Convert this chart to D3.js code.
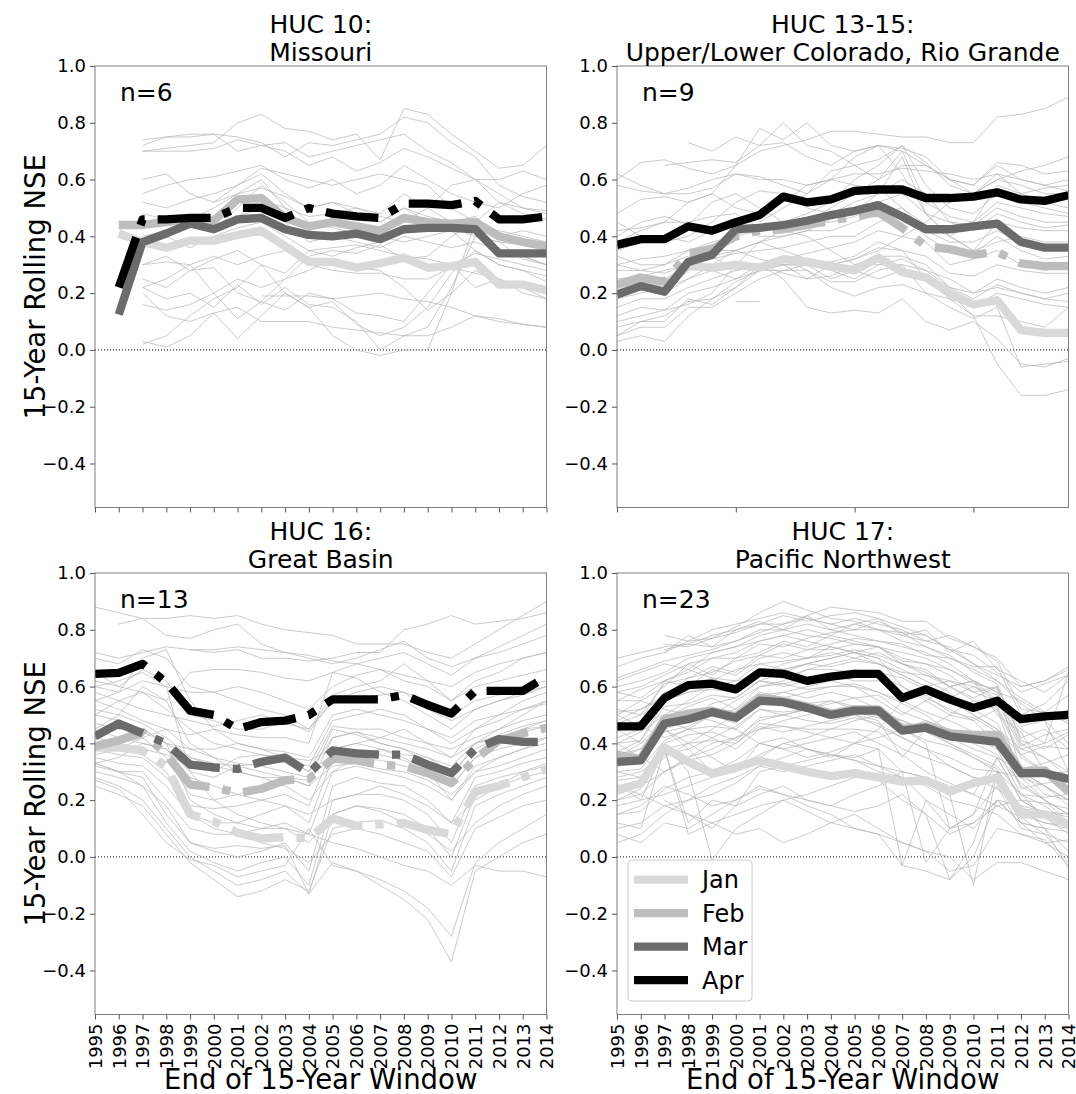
<!DOCTYPE html>
<html>
<head>
<meta charset="utf-8">
<script src="https://cdn.jsdelivr.net/npm/d3@7"></script>
<style>
  body { margin: 0; background: #fff; }
  svg { font-family: 'DejaVu Sans', sans-serif; }
</style>
</head>
<body>
<script>
'use strict'

// ---- data ----
const years = [1995, 1996, 1997, 1998, 1999, 2000, 2001, 2002, 2003, 2004,
  2005, 2006, 2007, 2008, 2009, 2010, 2011, 2012, 2013, 2014]
const months = ['Jan', 'Feb', 'Mar', 'Apr']
const yTicks = [1.0, 0.8, 0.6, 0.4, 0.2, 0.0, -0.2, -0.4]
const fiveYearTicks = [1995, 2000, 2005, 2010]

const titles = [
  ['HUC 10:', 'Missouri'],
  ['HUC 13-15:', 'Upper/Lower Colorado, Rio Grande'],
  ['HUC 16:', 'Great Basin'],
  ['HUC 17:', 'Pacific Northwest']
]
const counts = ['n=6', 'n=9', 'n=13', 'n=23']

// HUC 10
const p1Jan = [null, 0.41, 0.38, 0.36, 0.385, 0.385, 0.405, 0.42, 0.365, 0.31, 0.31, 0.29, 0.305, 0.325, 0.29, 0.295, 0.31, 0.23, 0.23, 0.21]
const p1Feb = [null, 0.44, 0.44, 0.45, 0.46, 0.455, 0.53, 0.535, 0.465, 0.435, 0.45, 0.435, 0.42, 0.465, 0.45, 0.445, 0.45, 0.40, 0.38, 0.365]
const p1Mar = [null, 0.125, 0.38, 0.41, 0.445, 0.425, 0.46, 0.465, 0.425, 0.405, 0.40, 0.41, 0.39, 0.425, 0.43, 0.43, 0.425, 0.34, 0.34, 0.34]
const p1Apr = [null, 0.22, 0.46, 0.46, 0.465, 0.465, 0.50, 0.50, 0.465, 0.50, 0.48, 0.47, 0.465, 0.515, 0.515, 0.51, 0.525, 0.46, 0.46, 0.47]

// HUC 13-15
const p2Jan = [0.22, 0.24, 0.23, 0.295, 0.29, 0.30, 0.29, 0.32, 0.31, 0.295, 0.28, 0.325, 0.275, 0.255, 0.20, 0.16, 0.175, 0.07, 0.06, 0.06]
const p2Feb = [0.23, 0.255, 0.24, 0.34, 0.355, 0.40, 0.42, 0.425, 0.44, 0.455, 0.47, 0.485, 0.43, 0.365, 0.355, 0.335, 0.345, 0.305, 0.295, 0.295]
const p2Mar = [0.195, 0.225, 0.205, 0.31, 0.335, 0.425, 0.43, 0.44, 0.455, 0.475, 0.49, 0.51, 0.47, 0.425, 0.425, 0.435, 0.445, 0.38, 0.36, 0.36]
const p2Apr = [0.37, 0.39, 0.39, 0.435, 0.42, 0.45, 0.475, 0.54, 0.52, 0.53, 0.56, 0.565, 0.565, 0.535, 0.535, 0.54, 0.555, 0.53, 0.525, 0.545]

// HUC 16
const p3Jan = [0.385, 0.385, 0.375, 0.32, 0.15, 0.125, 0.085, 0.065, 0.07, 0.065, 0.135, 0.11, 0.115, 0.12, 0.095, 0.08, 0.23, 0.25, 0.28, 0.31]
const p3Feb = [0.39, 0.41, 0.44, 0.36, 0.255, 0.245, 0.225, 0.24, 0.27, 0.275, 0.345, 0.34, 0.325, 0.32, 0.295, 0.26, 0.345, 0.41, 0.435, 0.455]
const p3Mar = [0.425, 0.47, 0.435, 0.40, 0.325, 0.315, 0.31, 0.335, 0.35, 0.295, 0.375, 0.365, 0.36, 0.36, 0.325, 0.295, 0.38, 0.415, 0.405, 0.405]
const p3Apr = [0.645, 0.648, 0.68, 0.615, 0.515, 0.50, 0.45, 0.475, 0.48, 0.50, 0.555, 0.555, 0.555, 0.57, 0.535, 0.505, 0.585, 0.585, 0.585, 0.635]

// HUC 17
const p4Jan = [0.235, 0.26, 0.385, 0.335, 0.295, 0.315, 0.34, 0.32, 0.30, 0.285, 0.295, 0.28, 0.265, 0.27, 0.23, 0.26, 0.28, 0.15, 0.15, 0.115]
const p4Feb = [0.36, 0.345, 0.485, 0.505, 0.515, 0.495, 0.56, 0.55, 0.53, 0.505, 0.52, 0.52, 0.45, 0.46, 0.435, 0.43, 0.43, 0.30, 0.305, 0.23]
const p4Mar = [0.335, 0.34, 0.47, 0.485, 0.51, 0.49, 0.55, 0.545, 0.525, 0.50, 0.515, 0.515, 0.445, 0.455, 0.425, 0.415, 0.405, 0.295, 0.295, 0.275]
const p4Apr = [0.46, 0.46, 0.56, 0.605, 0.61, 0.59, 0.65, 0.645, 0.62, 0.635, 0.645, 0.645, 0.56, 0.59, 0.555, 0.525, 0.55, 0.485, 0.495, 0.50]

// individual sites (NSE x 100, '_' = no value)
const p1Grey = [
  '_ _ 72 75 76 76 75 73 68 73 72 74 76 82 80 73 68 58 54 52',
  '_ _ 70 71 72 73 80 83 78 77 74 76 67 85 83 76 70 64 65 72',
  '_ _ 70 70 70 71 74 72 70 65 68 63 66 71 68 64 60 52 48 46',
  '_ _ 55 58 60 61 63 65 60 57 60 55 58 65 60 55 52 50 55 58',
  '_ _ 52 50 53 55 58 62 55 50 52 50 48 55 50 45 47 40 38 35',
  '_ _ 45 47 46 50 55 60 50 42 45 48 45 50 45 42 43 42 40 38',
  '_ _ 40 42 45 43 47 50 45 38 40 38 36 40 38 36 38 35 33 30',
  '_ _ 30 33 28 32 35 30 27 35 33 36 38 45 50 58 60 55 50 48',
  '_ _ 22 25 30 20 25 22 25 33 35 34 37 32 33 40 45 35 33 30',
  '_ _ 3 1 5 13 4 12 20 15 5 0 -2 0 0 20 45 52 50 49',
  '_ _ 2 5 12 18 22 30 20 15 17 9 5 8 15 27 35 30 28 26',
  '_ _ 22 18 20 15 23 16 22 16 15 10 0 5 8 22 40 38 32 30',
  '_ _ 16 14 16 20 11 17 14 20 18 13 12 10 20 30 22 25 20 18',
  '_ _ 25 22 28 29 20 17 25 28 32 29 28 22 14 20 28 24 22 20',
  '_ _ 20 12 10 13 15 10 10 10 8 7 6 5 5 8 12 11 9 8',
  '_ _ _ _ _ _ _ 19 19 19 18 19 20 18 17 15 12 10 9 8',
  '_ _ 48 46 44 42 50 58 52 45 43 41 40 38 40 42 35 30 28 24',
  '_ _ 38 40 36 40 43 45 40 35 36 37 35 33 32 30 34 32 30 28',
  '_ _ 60 62 55 52 58 64 62 60 58 60 62 60 58 50 45 40 42 40',
  '_ _ 74 75 75 76 70 72 73 68 70 72 74 76 70 66 60 60 63 60',
  '_ _ 30 31 30 33 30 33 35 30 28 27 27 25 25 29 27 25 22 18',
  '_ _ 45 44 46 42 47 53 50 47 48 50 47 45 45 43 40 38 37 36',
  '_ _ _ _ _ 52 55 57 54 50 52 48 45 50 47 45 42 40 38 36'
]

const p2Grey = [
  '48 53 54 52 55 65 70 72 74 77 77 76 75 75 73 73 82 83 85 89',
  '60 66 67 64 62 65 78 74 80 72 70 72 70 65 60 58 66 65 62 63',
  '_ _ _ 73 70 75 72 73 68 65 70 72 71 68 60 58 65 60 58 56',
  '58 56 55 57 60 62 61 58 55 63 65 67 72 66 58 55 62 60 58 60',
  '40 45 47 44 52 55 50 45 48 52 60 65 72 58 50 48 55 52 50 48',
  '42 43 45 45 47 48 43 42 45 50 55 60 70 52 47 45 52 50 48 47',
  '35 38 40 38 42 44 40 40 42 46 49 55 68 48 45 44 50 47 45 45',
  '30 32 33 35 38 40 42 43 45 45 47 52 55 48 40 35 45 43 42 42',
  '28 28 30 33 35 35 38 40 42 42 45 48 50 42 38 38 42 38 35 36',
  '25 26 28 30 32 34 35 36 38 40 40 45 48 40 35 34 40 35 32 33',
  '22 24 24 30 33 28 30 32 34 36 38 42 40 38 30 32 35 30 28 30',
  '18 20 22 25 28 25 28 30 30 31 33 38 35 33 27 26 30 28 27 27',
  '15 18 18 22 25 28 30 27 25 26 30 33 33 30 22 20 25 22 20 22',
  '10 12 14 20 22 25 30 32 28 24 24 28 30 28 22 18 23 20 18 20',
  '8 10 10 18 16 22 28 30 25 30 32 36 35 25 18 15 20 18 16 15',
  '5 8 8 15 15 20 25 28 30 28 25 30 30 20 18 12 12 10 8 15',
  '3 5 3 12 18 22 30 25 15 13 14 13 18 10 7 10 4 -5 -6 -3',
  '62 58 55 55 57 62 60 60 58 60 62 62 64 63 62 60 62 55 52 50',
  '20 22 20 25 30 35 32 30 30 25 28 25 28 25 20 12 -5 -16 -16 -14',
  '_ _ _ _ _ 17 17 _ _ _ _ _ _ _ _ _ _ _ _ _',
  '38 42 45 52 55 50 48 52 58 60 58 57 50 44 40 45 58 55 57 58',
  '45 40 38 40 45 52 56 55 50 48 52 55 60 55 45 42 48 45 43 44',
  '33 30 30 35 37 40 45 50 55 60 68 72 62 48 40 35 38 40 38 38',
  '12 15 14 16 20 30 38 42 40 35 30 30 32 28 25 20 22 20 18 17',
  '30 28 27 30 33 35 38 35 32 30 32 35 40 45 52 55 60 58 55 55',
  '5 10 12 17 18 24 28 28 28 22 19 22 23 20 15 11 15 -6 -5 -4',
  '_ _ 65 66 67 66 72 80 72 70 65 60 65 65 60 55 60 63 65 68'
]

const p3Grey = [
  '88 86 84 84 85 84 85 82 80 79 78 75 75 75 72 70 75 80 85 90',
  '_ 82 84 78 77 80 82 75 72 70 68 70 73 76 70 67 70 74 78 82',
  '72 70 72 74 73 72 73 70 70 69 70 72 72 80 82 85 82 83 84 86',
  '65 60 58 55 65 66 66 65 63 62 65 68 70 72 68 64 70 72 75 78',
  '60 58 62 60 58 58 60 58 55 52 60 64 66 62 60 55 62 65 70 72',
  '58 55 52 50 48 46 48 50 47 45 55 58 60 58 55 50 55 57 60 62',
  '55 52 48 45 43 45 43 42 42 40 65 63 58 55 50 45 52 55 58 60',
  '50 48 45 40 38 38 40 38 37 35 50 52 50 48 45 40 45 48 52 55',
  '45 42 40 38 30 28 32 33 35 30 46 45 45 42 40 38 42 45 48 50',
  '40 38 42 35 22 20 22 25 28 25 42 44 42 40 38 35 40 43 46 48',
  '38 36 35 28 18 17 18 20 22 18 38 40 38 36 35 30 38 42 45 46',
  '35 33 32 25 15 12 12 15 18 12 35 35 34 32 30 25 35 38 40 42',
  '33 30 30 20 10 8 8 10 12 8 30 32 30 28 25 20 30 35 38 40',
  '32 30 28 15 5 2 0 2 5 -5 25 28 26 25 20 12 28 30 33 35',
  '30 28 25 12 2 -2 -5 -2 0 -10 20 22 22 20 15 5 25 28 30 32',
  '28 25 20 10 0 -5 -10 -8 -5 -13 15 18 17 15 10 0 22 25 28 30',
  '25 22 18 8 -2 -8 -14 -12 -8 -12 10 12 13 10 5 -5 18 22 25 28',
  '27 24 15 5 -1 -3 -7 -5 -3 10 -3 -5 -8 -12 -18 -28 -2 5 10 15',
  '33 30 25 18 5 3 4 3 4 -13 -2 -5 -10 -15 -22 -37 -5 0 5 8',
  '60 62 65 60 30 20 15 12 10 8 5 3 0 -3 -5 -10 -3 -5 -5 -7',
  '55 58 70 73 55 45 40 38 35 30 42 44 40 38 33 28 40 45 50 55',
  '45 50 60 55 40 35 30 28 25 20 30 35 38 35 30 25 35 40 45 48',
  '_ _ _ _ 73 73 74 73 72 71 69 68 66 64 62 60 65 68 70 72',
  '33 35 40 38 28 25 22 20 18 15 20 22 25 22 18 12 20 25 30 33',
  '70 68 73 70 60 58 55 52 50 45 57 60 62 68 62 55 60 62 64 66',
  '62 60 66 62 50 48 45 45 48 44 55 56 57 58 52 48 52 55 57 60',
  '40 42 45 40 20 15 12 10 10 5 15 18 16 12 8 2 12 18 22 25',
  '36 38 36 30 15 10 8 5 3 -2 8 10 8 5 2 -7 10 14 18 20',
  '47 45 44 40 35 32 30 28 28 25 32 33 31 30 27 22 30 32 35 38',
  '52 50 47 42 35 33 32 30 28 27 45 43 40 38 35 32 40 42 44 46',
  '42 40 38 36 32 30 35 36 34 32 48 50 52 50 45 42 48 50 52 54',
  '50 55 58 52 45 40 38 36 35 34 38 40 42 45 40 35 45 50 55 58',
  '38 40 42 45 38 35 33 32 30 28 35 38 36 34 30 20 32 35 38 42'
]

const p4Grey = [
  '_ _ 73 75 74 76 80 80 78 77 75 74 72 70 66 62 58 55 50 48',
  '_ _ 75 74 77 79 82 85 83 85 86 84 81 78 73 68 62 56 51 47',
  '67 70 72 76 77 81 86 90 87 84 83 80 79 74 71 65 61 41 38 43',
  '63 66 69 71 73 76 79 82 85 88 87 86 83 83 77 74 69 52 51 57',
  '55 59 62 65 70 70 75 74 77 79 80 83 79 78 73 71 65 58 61 64',
  '51 52 57 63 65 69 71 75 73 75 77 76 75 71 70 67 67 50 54 62',
  '47 50 61 63 67 65 71 70 73 73 75 74 69 68 66 61 59 46 48 52',
  '44 48 62 66 63 62 68 69 70 71 73 71 68 64 62 60 57 39 43 45',
  '42 45 58 60 63 59 66 66 68 67 69 68 65 64 60 55 53 36 39 38',
  '40 41 55 58 59 58 64 63 66 66 65 65 63 59 57 52 47 31 33 36',
  '37 41 53 54 57 56 62 61 63 64 62 62 57 57 51 49 44 28 29 30',
  '36 38 49 53 56 52 60 61 59 60 61 58 55 51 48 44 42 24 26 27',
  '33 35 47 50 51 50 57 58 56 58 56 57 51 48 44 42 38 22 21 22',
  '32 33 45 48 50 47 55 54 54 55 53 53 47 45 42 38 35 20 19 17',
  '30 31 41 45 46 45 52 51 52 50 51 49 45 41 39 35 31 17 16 14',
  '27 28 40 43 44 41 49 50 48 47 49 47 42 38 35 31 30 15 12 11',
  '25 26 38 40 41 40 47 46 45 45 45 44 38 35 32 28 27 12 10 9',
  '26 20 38 12 20 18 30 32 34 36 35 38 -3 20 10 15 25 10 8 5',
  '20 24 40 30 -1 10 15 20 22 25 28 27 20 15 -8 5 30 15 12 10',
  '15 18 25 22 18 20 24 22 20 18 22 25 30 -2 10 12 18 20 15 12',
  '10 12 18 15 12 8 10 5 8 12 15 10 5 2 -5 -3 10 8 5 6',
  '8 5 12 10 15 20 25 22 18 15 10 8 -3 -5 -8 0 20 12 10 -4',
  '18 20 22 25 28 30 40 38 35 37 40 38 30 28 22 -10 30 28 20 15',
  '35 40 45 38 30 32 36 40 42 45 48 50 45 40 10 15 35 30 25 20',
  '45 48 50 55 60 58 62 65 68 70 72 70 60 55 50 48 52 35 30 28',
  '55 55 52 50 48 45 40 42 38 35 40 45 55 60 62 58 55 45 40 44',
  '30 28 35 40 45 50 55 58 60 62 60 55 50 55 60 62 58 40 35 30',
  '_ _ 20 15 10 18 22 25 20 18 16 18 22 15 8 12 20 18 16 15',
  '60 62 65 70 72 74 78 80 82 80 78 76 74 72 68 62 55 50 48 30',
  '70 72 74 75 78 80 82 82 84 82 80 80 78 76 74 68 64 60 62 67',
  '52 50 55 58 60 62 64 68 70 72 70 68 64 60 55 50 45 36 30 25',
  '40 35 30 35 40 42 48 50 52 55 52 50 48 45 40 35 30 22 18 12',
  '25 22 18 20 25 28 32 35 38 36 34 30 28 25 20 18 15 8 6 -3',
  '12 10 38 8 12 15 18 20 16 12 10 8 5 2 0 -8 -2 -2 -5 -8',
  '45 40 48 45 42 38 45 48 50 52 50 48 35 45 50 55 52 28 25 20',
  '58 60 64 68 70 72 76 78 76 74 72 70 66 62 58 50 45 38 40 65',
  '50 46 42 45 50 55 60 62 66 68 70 72 68 65 60 56 60 30 22 20',
  '22 25 30 35 38 42 45 46 44 42 40 42 45 48 45 42 40 25 20 12',
  '_ _ 78 76 80 82 84 86 84 82 84 82 80 76 78 74 70 60 62 66',
  '_ _ 72 78 74 80 83 80 85 80 82 84 78 80 72 76 66 62 58 64',
  '62 65 68 66 72 74 76 78 80 78 82 80 76 74 70 66 62 54 48 40',
  '50 55 60 68 64 70 72 76 74 78 76 74 70 68 64 58 60 42 45 38',
  '58 56 62 60 66 64 70 72 70 74 72 74 68 66 60 62 50 44 30 22',
  '48 52 56 60 62 66 68 66 68 70 72 68 64 60 56 60 55 38 35 28',
  '40 44 50 48 54 56 62 60 62 64 66 64 60 56 52 48 40 30 25 18',
  '35 38 44 46 50 52 58 56 58 60 60 58 54 50 44 40 36 26 20 15',
  '28 30 36 38 42 46 52 50 52 54 56 52 48 44 40 36 32 22 14 8',
  '20 22 30 34 36 40 46 44 46 48 50 46 42 38 32 28 24 18 10 2',
  '15 16 24 28 30 34 40 38 40 42 44 40 36 30 26 22 18 14 8 -2',
  '5 8 15 20 22 26 32 30 32 34 36 32 28 20 15 10 20 12 5 0',
  '_ _ 45 40 35 30 35 40 38 36 34 32 30 28 25 22 35 20 15 10'
]

// ---- styling ----
const monthColors = ['#d9d9d9', '#bdbdbd', '#6b6b6b', '#000000']
// which monthly mean lines are drawn dash-dot
const dashed = [
  [false, false, false, true],
  [false, true, false, false],
  [true, true, true, true],
  [false, false, false, false]
]

const panels = [
  { series: [p1Jan, p1Feb, p1Mar, p1Apr], grey: p1Grey, ticks: years, labels: false },
  { series: [p2Jan, p2Feb, p2Mar, p2Apr], grey: p2Grey, ticks: fiveYearTicks, labels: false },
  { series: [p3Jan, p3Feb, p3Mar, p3Apr], grey: p3Grey, ticks: years, labels: true },
  { series: [p4Jan, p4Feb, p4Mar, p4Apr], grey: p4Grey, ticks: years, labels: true }
]

const width = 1076
const height = 1094
const pw = 451.5
const ph = 441.5
const origins = [[95, 66], [617, 66], [95, 573], [617, 573]]
const thick = 8.3

const svg = d3.select('body').append('svg')
  .attr('width', width)
  .attr('height', height)

const x = d3.scaleLinear().domain([1995, 2014]).range([0, pw])
const y = d3.scaleLinear().domain([-0.555, 1]).range([ph, 0])

const line = d3.line()
  .defined(d => d[1] != null)
  .x(d => x(d[0]))
  .y(d => y(d[1]))

function pairs (vals) {
  return years.map((yr, i) => [yr, vals[i]])
}

function parseGrey (s) {
  return s.trim().split(/\s+/).slice(0, 20).map(v => v === '_' ? null : +v / 100)
}

panels.forEach(function (p, pi) {
  const g = svg.append('g')
    .attr('transform', 'translate(' + origins[pi][0] + ',' + origins[pi][1] + ')')

  g.append('clipPath').attr('id', 'clip' + pi)
    .append('rect').attr('width', pw).attr('height', ph)

  const plot = g.append('g').attr('clip-path', 'url(#clip' + pi + ')')

  // zero line
  plot.append('line')
    .attr('x1', 0).attr('x2', pw)
    .attr('y1', y(0)).attr('y2', y(0))
    .attr('stroke', '#000')
    .attr('stroke-width', 1)
    .attr('stroke-dasharray', '1,2')

  plot.selectAll('path.site')
    .data(p.grey.map(parseGrey))
    .enter()
    .append('path')
    .attr('class', 'site')
    .attr('fill', 'none')
    .attr('stroke', '#b4b4b4')
    .attr('stroke-width', 0.7)
    .attr('d', d => line(pairs(d)))

  p.series.forEach(function (vals, mi) {
    plot.append('path')
      .attr('fill', 'none')
      .attr('stroke', monthColors[mi])
      .attr('stroke-width', thick)
      .attr('stroke-linejoin', 'round')
      .attr('stroke-dasharray', dashed[pi][mi] ? '53,13,8.3,13' : null)
      .attr('d', line(pairs(vals)))
  })

  // frame
  g.append('rect')
    .attr('width', pw).attr('height', ph)
    .attr('fill', 'none')
    .attr('stroke', '#808080')
    .attr('stroke-width', 1)

  // y axis
  const ya = g.append('g').call(d3.axisLeft(y)
    .tickValues(yTicks)
    .tickSize(5)
    .tickPadding(4)
    .tickFormat(d3.format('.1f')))
  ya.select('.domain').remove()
  ya.selectAll('.tick line').attr('stroke', '#555')
  ya.selectAll('.tick text')
    .attr('font-family', 'DejaVu Sans')
    .attr('font-size', 18)
    .attr('fill', '#000')

  // x axis
  const xa = g.append('g')
    .attr('transform', 'translate(0,' + ph + ')')
    .call(d3.axisBottom(x)
      .tickValues(p.ticks)
      .tickSize(5)
      .tickFormat(p.labels ? d3.format('d') : ''))
  xa.select('.domain').remove()
  xa.selectAll('.tick line').attr('stroke', '#555')
  if (p.labels) {
    xa.selectAll('.tick text')
      .attr('font-family', 'DejaVu Sans')
      .attr('font-size', 18)
      .attr('fill', '#000')
      .attr('transform', 'rotate(-90)')
      .attr('text-anchor', 'end')
      .attr('x', -9)
      .attr('y', 0)
      .attr('dy', '0.35em')
    g.append('text')
      .attr('x', pw / 2)
      .attr('y', 1089 - origins[pi][1])
      .attr('text-anchor', 'middle')
      .attr('font-size', 27.5)
      .text('End of 15-Year Window')
  }

  // title
  g.append('text')
    .attr('x', pw / 2)
    .attr('y', -33.5)
    .attr('text-anchor', 'middle')
    .attr('font-size', 25)
    .text(titles[pi][0])
  g.append('text')
    .attr('x', pw / 2)
    .attr('y', -5)
    .attr('text-anchor', 'middle')
    .attr('font-size', 25)
    .text(titles[pi][1])

  g.append('text')
    .attr('x', 25)
    .attr('y', 35)
    .attr('font-size', 25)
    .text(counts[pi])

  if (pi % 2 === 0) {
    g.append('text')
      .attr('transform', 'translate(' + (45 - origins[pi][0]) + ',' + (ph / 2) + ') rotate(-90)')
      .attr('text-anchor', 'middle')
      .attr('font-size', 27.5)
      .text('15-Year Rolling NSE')
  }

  if (pi === 3) {
    const leg = g.append('g').attr('transform', 'translate(11,287)')
    leg.append('rect')
      .attr('width', 124).attr('height', 141)
      .attr('rx', 4)
      .attr('fill', '#fff')
      .attr('fill-opacity', 0.8)
      .attr('stroke', '#cccccc')
    months.forEach(function (m, mi) {
      const ly = 19.6 + mi * 33.5
      leg.append('line')
        .attr('x1', 6).attr('x2', 60)
        .attr('y1', ly).attr('y2', ly)
        .attr('stroke', monthColors[mi])
        .attr('stroke-width', thick)
      leg.append('text')
        .attr('x', 74)
        .attr('y', ly)
        .attr('dy', '0.35em')
        .attr('font-size', 24)
        .text(m)
    })
  }
})
</script>
</body>
</html>
